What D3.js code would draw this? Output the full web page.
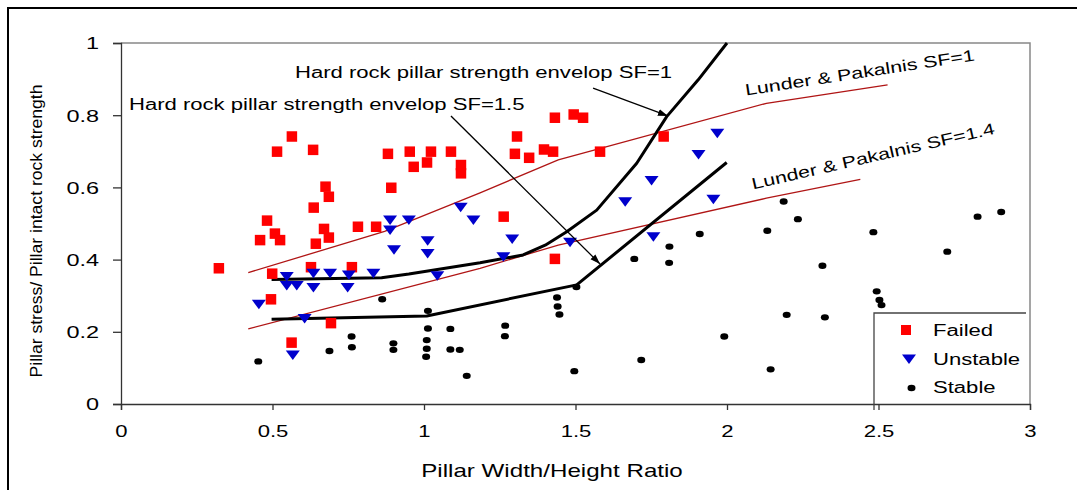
<!DOCTYPE html>
<html><head><meta charset="utf-8">
<script src="https://cdn.jsdelivr.net/npm/d3@7/dist/d3.min.js"></script>
<style>
body{margin:0;background:#fff}
svg{display:block}
text{font-family:"Liberation Sans",Arial,sans-serif;fill:#000}
</style></head><body>
<svg id="chart" width="1077" height="490"></svg>
<script>
// ---------- data ----------
const xTicks = [0, 0.5, 1, 1.5, 2, 2.5, 3];
const yTicks = [0, 0.2, 0.4, 0.6, 0.8, 1];

const failed = [
  [0.323,0.376],[0.459,0.454],[0.482,0.508],[0.495,0.290],[0.499,0.361],[0.508,0.472],[0.515,0.699],[0.525,0.454],
  [0.563,0.170],[0.564,0.741],[0.627,0.379],[0.634,0.704],[0.636,0.544],[0.643,0.444],
  [0.670,0.485],[0.675,0.602],[0.686,0.574],[0.686,0.461],[0.693,0.224],[0.762,0.379],
  [0.782,0.491],[0.842,0.491],[0.881,0.693],[0.892,0.599],[0.953,0.699],[0.966,0.657],
  [1.010,0.669],[1.023,0.699],[1.089,0.699],[1.122,0.662],[1.122,0.639],
  [1.263,0.519],[1.300,0.693],[1.307,0.741],[1.347,0.682],[1.396,0.705],[1.426,0.699],
  [1.432,0.793],[1.432,0.402],[1.494,0.802],[1.525,0.793],[1.581,0.699],[1.791,0.741]
];
const unstable = [
  [0.455,0.276],[0.547,0.353],[0.547,0.328],[0.567,0.136],[0.580,0.328],[0.606,0.237],
  [0.635,0.362],[0.635,0.323],[0.690,0.362],[0.748,0.323],[0.752,0.357],[0.833,0.362],
  [0.888,0.510],[0.888,0.482],[0.901,0.427],[0.950,0.510],[1.012,0.452],[1.012,0.417],
  [1.044,0.355],[1.121,0.545],[1.163,0.510],[1.262,0.408],[1.291,0.457],[1.482,0.448],
  [1.664,0.560],[1.751,0.619],[1.757,0.463],[1.906,0.691],[1.955,0.567],[1.968,0.750]
];
const stable = [
  [0.453,0.118],[0.688,0.147],[0.761,0.187],[0.762,0.157],[0.862,0.290],[0.899,0.168],[0.899,0.150],
  [1.007,0.131],[1.009,0.153],[1.009,0.177],[1.013,0.209],[1.013,0.258],[1.087,0.208],[1.087,0.151],
  [1.118,0.150],[1.141,0.078],[1.267,0.188],[1.268,0.217],[1.439,0.295],[1.441,0.270],[1.447,0.248],
  [1.496,0.091],[1.503,0.324],[1.694,0.402],[1.717,0.122],[1.809,0.391],[1.810,0.436],[1.910,0.471],
  [1.991,0.187],[2.133,0.480],[2.144,0.096],[2.187,0.561],[2.197,0.247],[2.234,0.512],[2.315,0.383],
  [2.323,0.240],[2.483,0.476],[2.494,0.312],[2.503,0.288],[2.510,0.274],[2.727,0.422],[2.827,0.519],[2.905,0.532]
];
const hardRockSF1 = [
  [0.497,0.345],[0.86,0.350],[0.95,0.360],[1.185,0.391],[1.327,0.413],[1.40,0.440],[1.471,0.477],
  [1.57,0.537],[1.702,0.667],[1.801,0.796],[1.905,0.898],[2.0,1.0]
];
const hardRockSF15 = [[0.497,0.235],[1.009,0.244],[1.504,0.330],[1.999,0.669]];
const lunderSF1 = [[0.42,0.364],[0.87,0.478],[1.185,0.585],[1.443,0.676],[2.13,0.833],[2.53,0.884]];
const lunderSF14 = [[0.42,0.208],[1.185,0.376],[1.443,0.440],[2.13,0.570],[2.44,0.622]];

const xTitle = "Pillar Width/Height Ratio";
const yTitle = "Pillar stress/ Pillar intact rock strength";
const legendLabels = ["Failed", "Unstable", "Stable"];

// ---------- layout ----------
const svg = d3.select("#chart");
const W = 1077, H = 490;
const x = d3.scaleLinear().domain([0, 3]).range([121, 1030]);
const y = d3.scaleLinear().domain([0, 1]).range([404, 43]);
const SX = 1.38; // horizontal stretch of the original rendering

svg.append("rect").attr("width", W).attr("height", H).attr("fill", "#fff");
// outer frame
svg.append("rect").attr("x", 8).attr("y", 8).attr("width", 1100).attr("height", 600)
  .attr("fill", "none").attr("stroke", "#000").attr("stroke-width", 2);

// plot border (top/right gray)
svg.append("path")
  .attr("d", `M${x(0)},${y(1)}H${x(3)}V${y(0)}`)
  .attr("fill", "none").attr("stroke", "#888").attr("stroke-width", 1.5);

// axes
const yAxis = svg.append("g").attr("transform", `translate(${x(0)},0)`)
  .call(d3.axisLeft(y).tickValues(yTicks).tickSize(8).tickFormat(d3.format("")));
yAxis.selectAll("path,line").attr("stroke", "#333").attr("stroke-width", 1.3);
yAxis.selectAll("text").attr("x", -22 / SX).attr("dy", "0.35em")
  .attr("transform", `scale(${SX},1)`).style("font-size", "17px")
  .style("font-family", '"Liberation Sans",Arial,sans-serif').attr("fill", "#000");

const xAxis = svg.append("g").attr("transform", `translate(0,${y(0)})`)
  .call(d3.axisBottom(x).tickValues(xTicks).tickSize(6).tickFormat(d3.format("")));
xAxis.selectAll("path,line").attr("stroke", "#333").attr("stroke-width", 1.3);
xAxis.selectAll("text").attr("y", 33).attr("dy", 0)
  .attr("transform", `scale(${SX},1)`).style("font-size", "16px")
  .style("font-family", '"Liberation Sans",Arial,sans-serif').attr("fill", "#000");

// axis titles
svg.append("text").attr("transform", `translate(552,477) scale(${SX},1)`)
  .attr("text-anchor", "middle").style("font-size", "17.5px").text(xTitle);
svg.append("text").attr("transform", `translate(42,231) rotate(-90)`)
  .attr("text-anchor", "middle").style("font-size", "17px")
  .attr("textLength", 293).attr("lengthAdjust", "spacingAndGlyphs").text(yTitle);

// lines
const line = d3.line().x(d => x(d[0])).y(d => y(d[1]));
[lunderSF1, lunderSF14].forEach(l => svg.append("path").attr("d", line(l))
  .attr("fill", "none").attr("stroke", "#b01515").attr("stroke-width", 1.3));
[hardRockSF1, hardRockSF15].forEach(l => svg.append("path").attr("d", line(l))
  .attr("fill", "none").attr("stroke", "#000").attr("stroke-width", 3).attr("stroke-linejoin", "round"));

// markers
const gF = svg.append("g");
gF.selectAll("rect").data(failed).join("rect")
  .attr("x", d => x(d[0]) - 5.25).attr("y", d => y(d[1]) - 5.25)
  .attr("width", 10.5).attr("height", 10.5).attr("fill", "#ff0000");
const tri = "M-7,-4.5L7,-4.5L0,5Z";
svg.append("g").selectAll("path").data(unstable).join("path")
  .attr("d", tri).attr("transform", d => `translate(${x(d[0])},${y(d[1])})`)
  .attr("fill", "#0000cc");
svg.append("g").selectAll("ellipse").data(stable).join("ellipse")
  .attr("cx", d => x(d[0])).attr("cy", d => y(d[1])).attr("rx", 4).attr("ry", 3.2)
  .attr("fill", "#000");

// arrows
const defs = svg.append("defs");
defs.append("marker").attr("id", "ah").attr("viewBox", "0 0 10 10").attr("refX", 10).attr("refY", 5)
  .attr("markerWidth", 10).attr("markerHeight", 10).attr("markerUnits", "userSpaceOnUse")
  .attr("orient", "auto").append("path").attr("d", "M0,1.5L10,5L0,8.5Z").attr("fill", "#000");
const arrows = [
  [[1.558, 0.875], [1.805, 0.798]],
  [[1.089, 0.798], [1.581, 0.388]]
];
arrows.forEach(a => svg.append("line")
  .attr("x1", x(a[0][0])).attr("y1", y(a[0][1])).attr("x2", x(a[1][0])).attr("y2", y(a[1][1]))
  .attr("stroke", "#000").attr("stroke-width", 1.3).attr("marker-end", "url(#ah)"));

// annotations
svg.append("text").attr("transform", `translate(295,78) scale(${SX},1)`)
  .style("font-size", "16px").text("Hard rock pillar strength envelop SF=1");
svg.append("text").attr("transform", `translate(129,109.5) scale(${SX},1)`)
  .style("font-size", "16px").text("Hard rock pillar strength envelop SF=1.5");
svg.append("text").attr("transform", `translate(746,95.5) rotate(-8.7)`)
  .style("font-size", "16px").attr("textLength", 232).attr("lengthAdjust", "spacingAndGlyphs")
  .text("Lunder & Pakalnis SF=1");
svg.append("text").attr("transform", `translate(753,189.5) rotate(-12.96)`)
  .style("font-size", "16px").attr("textLength", 249).attr("lengthAdjust", "spacingAndGlyphs")
  .text("Lunder & Pakalnis SF=1.4");

// legend
const lg = svg.append("g");
lg.append("path").attr("d", "M874,410V313H1026").attr("fill", "none").attr("stroke", "#444").attr("stroke-width", 1.3);
lg.append("rect").attr("x", 901).attr("y", 325).attr("width", 10).attr("height", 10).attr("fill", "#ff0000");
lg.append("path").attr("d", tri).attr("transform", "translate(909,359)").attr("fill", "#0000cc");
lg.append("ellipse").attr("cx", 911.5).attr("cy", 388).attr("rx", 4).attr("ry", 3.2).attr("fill", "#000");
const lgY = [336, 365, 393];
legendLabels.forEach((t, i) => lg.append("text")
  .attr("transform", `translate(933,${lgY[i]}) scale(${SX},1)`)
  .style("font-size", "16px").text(t));
</script></body></html>
